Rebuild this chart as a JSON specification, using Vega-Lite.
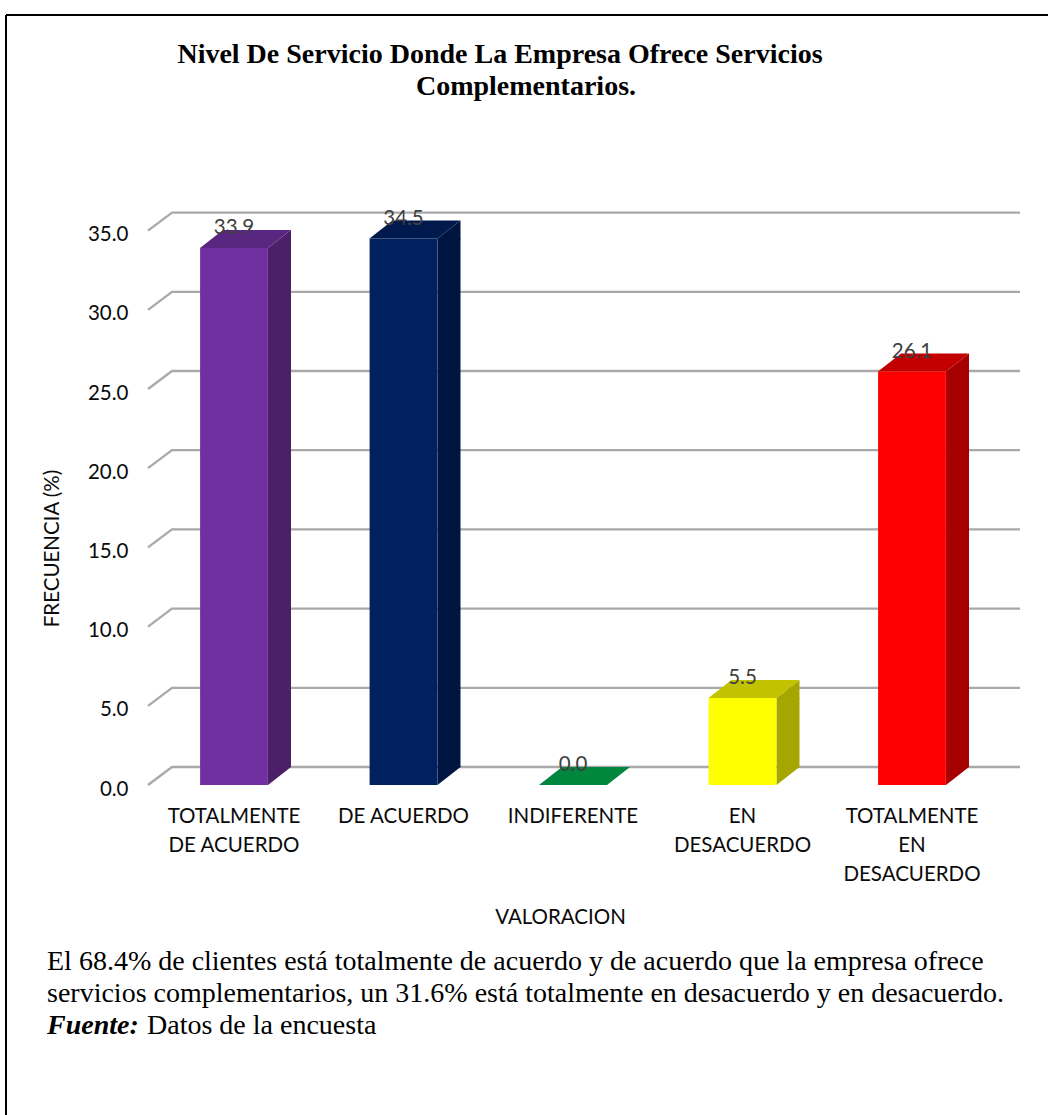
{
  "$schema": "https://vega.github.io/schema/vega-lite/v6.json",
  "width": 1042,
  "height": 1100,
  "padding": {"left": 6, "top": 15, "right": 0, "bottom": 0},
  "autosize": "none",
  "background": "white",
  "config": {"view": {"stroke": null}},
  "datasets": {
    "respuestas": [
      {"valoracion": "TOTALMENTE|DE ACUERDO", "frecuencia": 33.9},
      {"valoracion": "DE ACUERDO", "frecuencia": 34.5},
      {"valoracion": "INDIFERENTE", "frecuencia": 0.0},
      {"valoracion": "EN|DESACUERDO", "frecuencia": 5.5},
      {"valoracion": "TOTALMENTE|EN|DESACUERDO", "frecuencia": 26.1}
    ],
    "escala": [
      {"nivel": 0}, {"nivel": 5}, {"nivel": 10}, {"nivel": 15},
      {"nivel": 20}, {"nivel": 25}, {"nivel": 30}, {"nivel": 35}
    ]
  },
  "layer": [
    {
      "description": "Marco superior e izquierdo de la figura",
      "data": {"values": [{"marco": 1}]},
      "mark": {"type": "rule", "color": "#000000", "strokeWidth": 2},
      "encoding": {"x": {"value": 0}}
    },
    {
      "data": {"values": [{"marco": 1}]},
      "mark": {"type": "rule", "color": "#000000", "strokeWidth": 2},
      "encoding": {"y": {"value": 0}}
    },
    {
      "description": "Lineas de la pared y el piso del grafico 3D",
      "data": {"name": "escala"},
      "mark": {"type": "point", "shape": "M0,0L24,-18L872,-18", "size": 4, "filled": false, "stroke": "#a9a9a9", "strokeWidth": 2.3, "opacity": 1},
      "encoding": {
        "x": {"value": 142},
        "y": {"field": "nivel", "type": "quantitative", "scale": {"domain": [0, 35], "range": [770, 215.6]},
          "axis": {"orient": "left", "offset": -122, "values": [0, 5, 10, 15, 20, 25, 30, 35], "format": ".1f", "domain": false, "ticks": false, "grid": false, "labelPadding": 0, "labelOffset": 4, "labelFont": "Lato", "labelFontSize": 20.5, "labelColor": "#0a0a0a", "title": "FRECUENCIA (%)", "titleFont": "Lato", "titleFontSize": 20.5, "titleFontWeight": "normal", "titleColor": "#0a0a0a", "titleX": -66, "titleY": 533}
        }
      }
    },
    {
      "description": "Cara lateral: tramo recto",
      "data": {"name": "respuestas"},
      "transform": [{"filter": "datum.frecuencia > 0"}],
      "mark": {"type": "bar", "width": 23, "xOffset": 45.5, "y2Offset": -18},
      "encoding": {
        "x": {"field": "valoracion", "type": "nominal", "scale": {"domain": ["TOTALMENTE|DE ACUERDO", "DE ACUERDO", "INDIFERENTE", "EN|DESACUERDO", "TOTALMENTE|EN|DESACUERDO"], "range": [143.25, 990.75], "paddingInner": 0.6, "paddingOuter": 0.3},
          "axis": {"orient": "bottom", "offset": -330, "domain": false, "ticks": false, "grid": false, "labelAngle": 0, "labelAlign": "center", "labelBaseline": "top", "labelPadding": 21, "labelFont": "Lato", "labelFontSize": 20.5, "labelLineHeight": 29, "labelColor": "#0a0a0a", "labelOverlap": false, "labelLimit": 0, "labelExpr": "split(datum.label, '|')", "title": "VALORACION", "titleFont": "Lato", "titleFontSize": 20.5, "titleFontWeight": "normal", "titleColor": "#0a0a0a", "titleX": 554, "titleY": 122}
        },
        "y": {"field": "frecuencia", "type": "quantitative", "stack": null},
        "y2": {"datum": 0},
        "color": {"field": "valoracion", "type": "nominal", "legend": null, "scale": {
          "domain": ["TOTALMENTE|DE ACUERDO", "DE ACUERDO", "INDIFERENTE", "EN|DESACUERDO", "TOTALMENTE|EN|DESACUERDO"],
          "range": ["#4b2069", "#001540", "#005a29", "#a6a600", "#a60000"]}}
      }
    },
    {
      "description": "Cara lateral: triangulo superior",
      "data": {"name": "respuestas"},
      "transform": [{"filter": "datum.frecuencia > 0"}],
      "mark": {"type": "point", "shape": "M34,0L57,-18L57,1L34,1Z", "size": 4, "filled": true, "opacity": 1},
      "encoding": {
        "x": {"field": "valoracion", "type": "nominal"},
        "y": {"field": "frecuencia", "type": "quantitative"},
        "color": {"field": "valoracion", "type": "nominal", "legend": null}
      }
    },
    {
      "description": "Cara lateral: triangulo inferior",
      "data": {"name": "respuestas"},
      "transform": [{"filter": "datum.frecuencia > 0"}],
      "mark": {"type": "point", "shape": "M34,0L57,-18L57,-19L34,-19Z", "size": 4, "filled": true, "opacity": 1},
      "encoding": {
        "x": {"field": "valoracion", "type": "nominal"},
        "y": {"datum": 0},
        "color": {"field": "valoracion", "type": "nominal", "legend": null}
      }
    },
    {
      "description": "Cara superior de cada barra",
      "data": {"name": "respuestas"},
      "mark": {"type": "point", "shape": "M-34,0L-11,-18L57,-18L34,0Z", "size": 4, "filled": true, "opacity": 1},
      "encoding": {
        "x": {"field": "valoracion", "type": "nominal"},
        "y": {"field": "frecuencia", "type": "quantitative"},
        "fill": {"field": "valoracion", "type": "nominal", "legend": null, "scale": {
          "domain": ["TOTALMENTE|DE ACUERDO", "DE ACUERDO", "INDIFERENTE", "EN|DESACUERDO", "TOTALMENTE|EN|DESACUERDO"],
          "range": ["#592680", "#001a4d", "#00863d", "#c2c200", "#c20000"]}}
      }
    },
    {
      "description": "Cara frontal de cada barra",
      "data": {"name": "respuestas"},
      "transform": [{"filter": "datum.frecuencia > 0"}],
      "mark": {"type": "bar"},
      "encoding": {
        "x": {"field": "valoracion", "type": "nominal"},
        "y": {"field": "frecuencia", "type": "quantitative", "stack": null},
        "y2": {"datum": 0},
        "fill": {"field": "valoracion", "type": "nominal", "legend": null, "scale": {
          "domain": ["TOTALMENTE|DE ACUERDO", "DE ACUERDO", "INDIFERENTE", "EN|DESACUERDO", "TOTALMENTE|EN|DESACUERDO"],
          "range": ["#7030a0", "#002060", "#00b050", "#ffff00", "#ff0000"]}}
      }
    },
    {
      "description": "Valor de cada barra",
      "data": {"name": "respuestas"},
      "mark": {"type": "text", "font": "Lato", "fontSize": 20.5, "color": "#404040", "dy": -20, "baseline": "middle"},
      "encoding": {
        "x": {"field": "valoracion", "type": "nominal"},
        "y": {"field": "frecuencia", "type": "quantitative"},
        "text": {"field": "frecuencia", "type": "quantitative", "format": ".1f"}
      }
    },
    {
      "data": {"values": [{"texto": "Nivel De Servicio Donde La Empresa Ofrece Servicios"}]},
      "mark": {"type": "text", "font": "Liberation Serif", "fontSize": 28, "fontWeight": "bold", "color": "#000000", "align": "center", "baseline": "middle"},
      "encoding": {"x": {"value": 494}, "y": {"value": 40}, "text": {"field": "texto"}}
    },
    {
      "data": {"values": [{"texto": "Complementarios."}]},
      "mark": {"type": "text", "font": "Liberation Serif", "fontSize": 28, "fontWeight": "bold", "color": "#000000", "align": "center", "baseline": "middle"},
      "encoding": {"x": {"value": 520}, "y": {"value": 72}, "text": {"field": "texto"}}
    },
    {
      "data": {"values": [{"texto": "El 68.4% de clientes está totalmente de acuerdo y de acuerdo que la empresa ofrece"}]},
      "mark": {"type": "text", "font": "Liberation Serif", "fontSize": 28, "color": "#000000", "align": "left", "baseline": "middle"},
      "encoding": {"x": {"value": 41}, "y": {"value": 947}, "text": {"field": "texto"}}
    },
    {
      "data": {"values": [{"texto": "servicios complementarios, un 31.6% está totalmente en desacuerdo y en desacuerdo."}]},
      "mark": {"type": "text", "font": "Liberation Serif", "fontSize": 28, "color": "#000000", "align": "left", "baseline": "middle"},
      "encoding": {"x": {"value": 41}, "y": {"value": 979}, "text": {"field": "texto"}}
    },
    {
      "data": {"values": [{"texto": "Fuente:"}]},
      "mark": {"type": "text", "font": "Liberation Serif", "fontSize": 28, "fontWeight": "bold", "fontStyle": "italic", "color": "#000000", "align": "left", "baseline": "middle"},
      "encoding": {"x": {"value": 41}, "y": {"value": 1011}, "text": {"field": "texto"}}
    },
    {
      "data": {"values": [{"texto": "Datos de la encuesta"}]},
      "mark": {"type": "text", "font": "Liberation Serif", "fontSize": 28, "color": "#000000", "align": "left", "baseline": "middle"},
      "encoding": {"x": {"value": 141}, "y": {"value": 1011}, "text": {"field": "texto"}}
    }
  ],
  "resolve": {"scale": {"color": "shared", "fill": "independent", "stroke": "independent"}}
}
